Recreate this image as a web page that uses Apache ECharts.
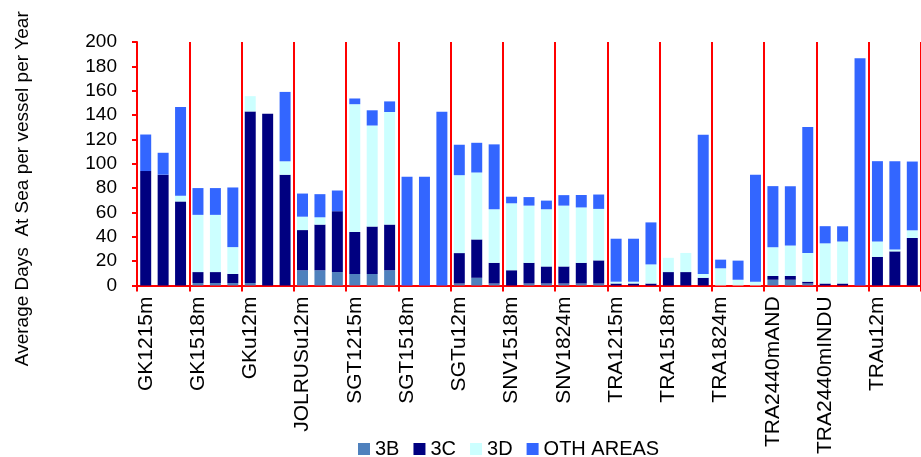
<!DOCTYPE html>
<html>
<head>
<meta charset="utf-8">
<script src="https://cdn.jsdelivr.net/npm/echarts@6/dist/echarts.min.js"></script>
<style>html,body{margin:0;padding:0;background:#fff;}#chart{width:921px;height:457px;}</style>
</head>
<body>
<div id="chart"></div>
<script>
// Groups (3 bars each)
const groups = ['GK1215m','GK1518m','GKu12m','JOLRUSu12m','SGT1215m','SGT1518m','SGTu12m','SNV1518m','SNV1824m','TRA1215m','TRA1518m','TRA1824m','TRA2440mAND','TRA2440mINDU','TRAu12m'];
const seriesNames = ['3B','3C','3D','OTH AREAS'];
const yTicks = [0,20,40,60,80,100,120,140,160,180,200];

const v3B = [0,0,0, 2,2,2, 2,0,0, 12.5,12.5,11, 9.4,9.4,12.5, 0,0,0, 1.6,6.3,1.6, 0,1.6,1.6, 1.6,1.6,1.6, 0,0,0, 0,0,0, 0,0,0, 4.7,4.7,1.6, 0,0,0, 0,0,0];
const v3C = [94,91,69, 9,9,7.5, 141,141,91, 33,37.5,50, 34.5,39,37.5, 0,0,0, 25,31.5,17, 12.5,17,14, 14,17,19, 1.6,1.6,1.6, 11,11,6.3, 0,0,0, 3.1,3.1,1.5, 1.6,1.6,0, 23.5,28,39];
const v3D = [0,0,4.7, 47,47,22, 12.5,0,11, 11,6,0, 105,83,92.5, 0,0,0, 64,55,44, 55,47,47, 50,45.5,42.3, 1.5,1.5,15.7, 11.7,15.7,3.1, 14.1,4.7,3.1, 23.6,25,23.6, 33,34.5,0, 12.6,1.6,6.3];
const vOTH = [30,18,73, 22,22,49, 0,0,57, 19,19,17, 4.7,12.5,8.7, 89.4,89.4,142.7, 25,24.4,53.3, 5.4,7,7.1, 8.6,10.2,11.8, 35.3,35.3,34.5, 0,0,114.5, 7.1,15.7,87.9, 50.2,48.7,103.5, 14.1,12.5,186.7, 66,72.4,56.5];

const colors = ['#4F81BD','#000080','#CCFFFF','#3366FF'];
const FONT = "'Liberation Sans', Arial, sans-serif";
const GRAY = '#ff0000';

const xData = [];
groups.forEach(g => { for (let k = 0; k < 3; k++) xData.push(g + '|' + k); });
const isGroupStart = (i) => i % 3 === 0;
const yMax = yTicks[yTicks.length - 1];

const chart = echarts.init(document.getElementById('chart'));
const values = [v3B, v3C, v3D, vOTH];

chart.setOption({
  animation: false,
  grid: { left: 137, top: 42, width: 787, height: 255.5 },
  legend: {
    data: seriesNames,
    left: 353, top: 434,
    itemWidth: 12, itemHeight: 12, itemGap: 14,
    icon: 'rect',
    textStyle: { fontSize: 20, color: '#000', fontFamily: FONT }
  },
  xAxis: {
    type: 'category',
    data: xData,
    axisLine: { lineStyle: { color: GRAY, width: 2 } },
    axisTick: { show: true, interval: isGroupStart, length: 6, lineStyle: { color: GRAY, width: 2 } },
    splitLine: { show: true, interval: isGroupStart, lineStyle: { color: GRAY, width: 2 } },
    axisLabel: {
      interval: 0, rotate: 90, margin: 11,
      fontSize: 21, color: '#000', fontFamily: FONT,
      formatter: (val, idx) => isGroupStart(idx) ? val.split('|')[0] : ''
    }
  },
  yAxis: {
    type: 'value', min: yTicks[0], max: yMax, interval: 20,
    name: 'Average Days  At Sea per vessel per Year',
    nameLocation: 'middle', nameGap: 105, nameRotate: 90,
    nameTextStyle: { fontSize: 19, color: '#000', fontFamily: FONT, padding: [0, 50, 0, 0] },
    axisLine: { show: true, lineStyle: { color: GRAY, width: 2 } },
    axisTick: { show: true, length: 5, lineStyle: { color: GRAY, width: 2 } },
    splitLine: { show: false },
    axisLabel: { fontSize: 19, color: '#000', margin: 20, fontFamily: FONT }
  },
  series: seriesNames.map((n, s) => ({
    name: n, type: 'bar', stack: 'total', barWidth: '63%',
    data: values[s], itemStyle: { color: colors[s] }
  }))
});
</script>
</body>
</html>
